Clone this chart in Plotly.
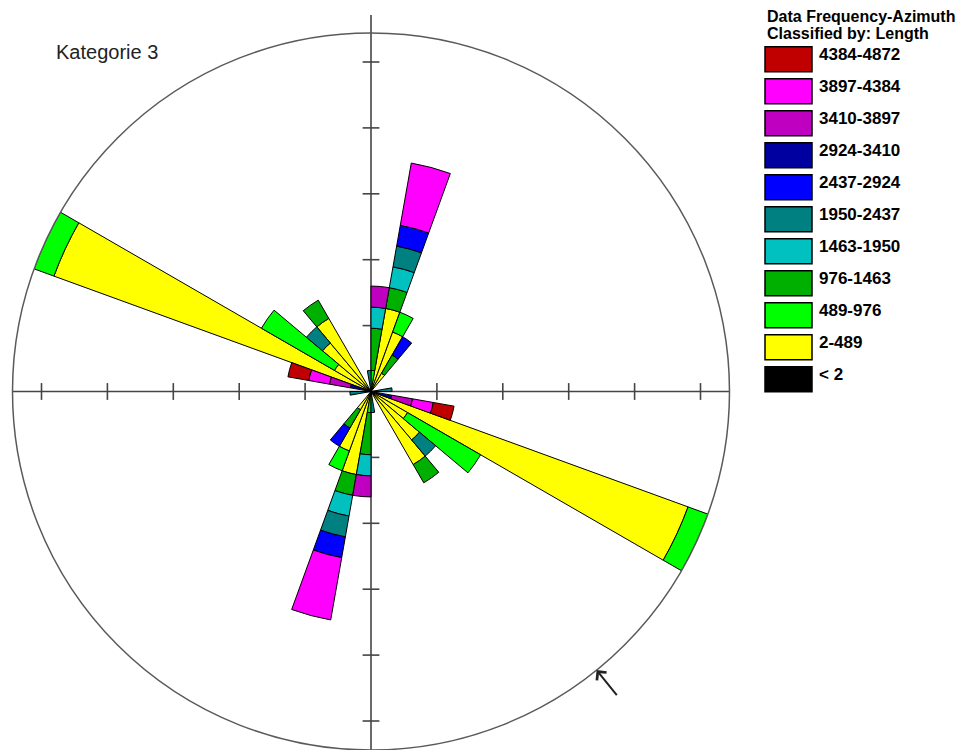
import math
import plotly.graph_objects as go

# ---- data -----------------------------------------------------------------
# 10-degree azimuth classes (start of class), half rose 0-180; the rose is axial,
# so every petal is repeated at azimuth + 180.
bin_start = [0, 10, 20, 30, 40, 50, 60, 70, 80, 90, 100, 110, 120, 130, 140, 150, 160, 170]
BIN_WIDTH = 10

# length classes (inner -> outer in the stack)
class_labels = ["< 2", "2-489", "489-976", "976-1463", "1463-1950", "1950-2437",
                "2437-2924", "2924-3410", "3410-3897", "3897-4384", "4384-4872"]
class_colors = ["#000000", "#FFFF00", "#00FF00", "#00B000", "#00C0C0", "#008080",
                "#0000FF", "#0000A0", "#C000C0", "#FF00FF", "#C00000"]

# number of lineaments per azimuth class, one list per length class
n_lt2       = [0, 0, 0, 0, 0, 0, 0, 0, 0, 0, 0, 0, 0, 0, 0, 0, 0, 0]
n_2_489     = [0, 4, 3, 1, 0, 0, 0, 0, 0, 0, 0, 16, 2, 3, 4, 0, 0, 0]
n_489_976   = [1, 0, 1, 0, 0, 0, 0, 0, 0, 0, 0, 1, 4, 0, 0, 0, 0, 0]
n_976_1463  = [2, 1, 0, 1, 0, 0, 0, 0, 0, 0, 0, 0, 0, 0, 1, 0, 0, 0]
n_1463_1950 = [1, 1, 0, 0, 0, 0, 0, 0, 0, 0, 0, 0, 0, 0, 0, 0, 0, 0]
n_1950_2437 = [0, 1, 0, 0, 0, 0, 0, 0, 1, 0, 0, 0, 0, 1, 0, 0, 0, 1]
n_2437_2924 = [0, 1, 0, 1, 0, 0, 0, 0, 0, 0, 0, 0, 0, 0, 0, 0, 0, 0]
n_2924_3410 = [0, 0, 0, 0, 0, 0, 0, 0, 0, 0, 1, 0, 0, 0, 0, 0, 0, 0]
n_3410_3897 = [1, 0, 0, 0, 0, 0, 0, 0, 0, 0, 1, 0, 0, 0, 0, 0, 0, 0]
n_3897_4384 = [0, 3, 0, 0, 0, 0, 0, 0, 0, 0, 1, 0, 0, 0, 0, 0, 0, 0]
n_4384_4872 = [0, 0, 0, 0, 0, 0, 0, 0, 0, 0, 1, 0, 0, 0, 0, 0, 0, 0]

class_counts = [n_lt2, n_2_489, n_489_976, n_976_1463, n_1463_1950, n_1950_2437,
                n_2437_2924, n_2924_3410, n_3410_3897, n_3897_4384, n_4384_4872]

mean_azimuth = 141  # direction marked by the arrow on the rim

# ---- geometry / style -----------------------------------------------------
W, H = 967, 750
CX, CY, RAD = 371, 391.5, 358.5          # rose centre and radius (px)
R_MAX = 17                               # radial range (count)
TICK_STEP = 3.125
N_TICKS = 5
AXIS_COL = "#454545"
FONT = "Liberation Sans, Arial, sans-serif"

fig = go.Figure()

# stacked petals
for label, color, counts in zip(class_labels, class_colors, class_counts):
    theta, r = [], []
    for start, c in zip(bin_start, counts):
        if c > 0:
            for offset in (0, 180):
                theta.append(start + offset + BIN_WIDTH / 2)
                r.append(c)
    fig.add_trace(go.Barpolar(
        r=r, theta=theta, width=[BIN_WIDTH] * len(r), name=label,
        marker=dict(color=color, line=dict(color="#000000", width=1)),
        showlegend=False, hoverinfo="skip",
    ))

# crosshair axes with tick marks (cartesian overlay sharing the same scale)
k = RAD / R_MAX
fig.add_trace(go.Scatter(x=[-R_MAX, R_MAX], y=[0, 0], mode="lines",
                         line=dict(color=AXIS_COL, width=1.6), showlegend=False, hoverinfo="skip"))
fig.add_trace(go.Scatter(x=[0, 0], y=[-1.05 * R_MAX, 1.05 * R_MAX], mode="lines",
                         line=dict(color=AXIS_COL, width=1.6), showlegend=False, hoverinfo="skip"))
tick_vals = [i * TICK_STEP for i in range(1, N_TICKS + 1)]
tick_vals = [-v for v in tick_vals] + tick_vals
fig.add_trace(go.Scatter(x=tick_vals, y=[0] * len(tick_vals), mode="markers",
                         marker=dict(symbol="line-ns", size=12, line=dict(color=AXIS_COL, width=1.6)),
                         showlegend=False, hoverinfo="skip"))
fig.add_trace(go.Scatter(x=[0] * len(tick_vals), y=tick_vals, mode="markers",
                         marker=dict(symbol="line-ew", size=12, line=dict(color=AXIS_COL, width=1.6)),
                         showlegend=False, hoverinfo="skip"))

fig.update_layout(
    width=W, height=H,
    margin=dict(l=0, r=0, t=0, b=0),
    paper_bgcolor="white", plot_bgcolor="rgba(0,0,0,0)",
    xaxis=dict(domain=[0, 1], range=[-CX / k, (W - CX) / k], visible=False, fixedrange=True),
    yaxis=dict(domain=[0, 1], range=[-(H - CY) / k, CY / k], visible=False, fixedrange=True),
    polar=dict(
        domain=dict(x=[(CX - RAD) / W, (CX + RAD) / W],
                    y=[(H - CY - RAD) / H, (H - CY + RAD) / H]),
        bgcolor="rgba(0,0,0,0)",
        barmode="stack",
        angularaxis=dict(direction="clockwise", rotation=90, showgrid=False,
                         showticklabels=False, ticks="", showline=True,
                         linecolor="#5a5a5a", linewidth=1.5),
        radialaxis=dict(range=[0, R_MAX], visible=False),
    ),
    showlegend=False,
)

# arrow on the rim
az = math.radians(mean_azimuth)
fig.add_annotation(
    x=R_MAX * math.sin(az), y=R_MAX * math.cos(az), xref="x", yref="y",
    ax=34 * math.sin(az), ay=-34 * math.cos(az), axref="pixel", ayref="pixel",
    showarrow=True, arrowhead=4, arrowsize=1.2, arrowwidth=2, arrowcolor="#222222", text="",
)

# title text
fig.add_annotation(x=54 / W, y=1 - 52 / H, xref="paper", yref="paper",
                   text="Kategorie 3", showarrow=False, xanchor="left", yanchor="middle",
                   font=dict(family=FONT, size=20, color="#222222"))

# legend
LEG_X, LEG_TOP, LEG_DY, SW_W, SW_H = 765, 46.7, 32, 47, 25
fig.add_annotation(x=LEG_X / W, y=1 - 17 / H, xref="paper", yref="paper",
                   text="Data Frequency-Azimuth", showarrow=False, xanchor="left", yanchor="middle",
                   font=dict(family=FONT, size=16, color="#000000", weight="bold"))
fig.add_annotation(x=LEG_X / W, y=1 - 33 / H, xref="paper", yref="paper",
                   text="Classified by: Length", showarrow=False, xanchor="left", yanchor="middle",
                   font=dict(family=FONT, size=16, color="#000000", weight="bold"))
for i, (label, color) in enumerate(zip(class_labels[::-1], class_colors[::-1])):
    top = LEG_TOP + i * LEG_DY
    fig.add_shape(type="rect", xref="paper", yref="paper",
                  x0=LEG_X / W, x1=(LEG_X + SW_W) / W,
                  y0=1 - (top + SW_H) / H, y1=1 - top / H,
                  fillcolor=color, line=dict(color="#000000", width=1.5))
    fig.add_annotation(x=(LEG_X + SW_W + 5) / W, y=1 - (top + 8) / H, xref="paper", yref="paper",
                       text=label, showarrow=False, xanchor="left", yanchor="middle",
                       font=dict(family=FONT, size=17, color="#000000", weight="bold"))

fig.write_html("out.html")
